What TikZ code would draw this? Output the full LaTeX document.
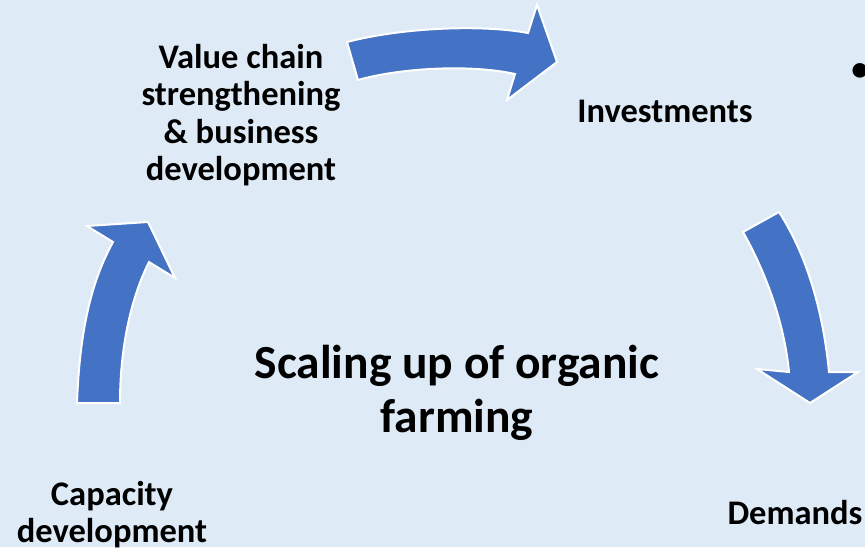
\documentclass[tikz,border=0pt]{standalone}
\usepackage{fontspec}
\setmainfont{Carlito}
\definecolor{bgblue}{RGB}{222,235,247}
\definecolor{arrowblue}{RGB}{68,114,196}
\tikzset{
  cyclearrow/.style={fill=arrowblue, draw=white, line width=2pt, line join=miter},
  lbl/.style={font=\bfseries\fontsize{34.5}{37.5}\selectfont, align=center, inner sep=0pt, text=black},
  titlelbl/.style={font=\bfseries\fontsize{47.5}{53.5}\selectfont, align=center, inner sep=0pt, text=black}
}
\begin{document}
\begin{tikzpicture}[x=1pt,y=-1pt]
\fill[bgblue] (0,0) rectangle (865,547);
\useasboundingbox (0,0) rectangle (865,547);
% arrows
\path[cyclearrow] (347,42) .. controls (400,28) and (480,24) .. (528,33) -- (537,5) -- (557,62) -- (507,100) -- (515,74) .. controls (470,64) and (400,68) .. (358,80) -- cycle;
\path[cyclearrow] (743,232) .. controls (770,280) and (785,330) .. (789,372) -- (757,369) -- (810,403) -- (858,372) -- (829,372) .. controls (824,320) and (810,260) .. (779,212) -- cycle;
\path[cyclearrow] (77,403) .. controls (80,320) and (95,275) .. (113,242) -- (87,226) -- (148,222) -- (175,278) -- (149,262) .. controls (130,300) and (120,350) .. (120,403) -- cycle;
% labels
\node[lbl, anchor=north] (valuechain) at (241,44) {Value chain\\strengthening\\\& business\\development};
\node[lbl, anchor=base] (invest) at (665,122) {Investments};
\node[titlelbl, anchor=north] (title) at (457,345) {Scaling up of organic\\farming};
\node[lbl, anchor=north] (capacity) at (112,481) {Capacity\\development};
\node[lbl, anchor=base] (demands) at (795,524) {Demands};
\node[lbl, anchor=center] (bullet) at (860,72) {•};
\end{tikzpicture}
\end{document}
